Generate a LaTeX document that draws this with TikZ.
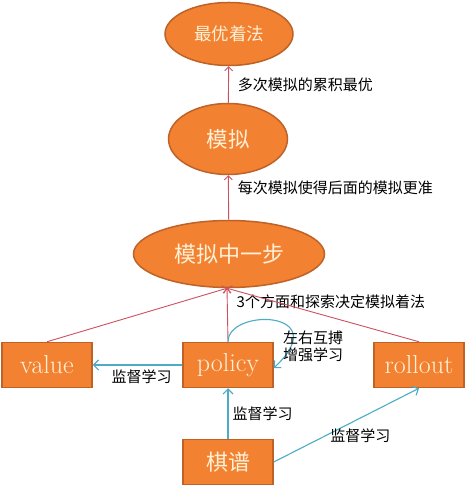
\documentclass[tikz,border=0pt]{standalone}
\usepackage{xcolor}
\usepackage{fontspec}
\usepackage{tikz}
\usetikzlibrary{shapes.geometric,positioning,arrows.meta}
\newfontfamily\cjk{Noto Sans CJK SC}
\definecolor{orfill}{RGB}{242,130,50}
\definecolor{ordraw}{RGB}{190,98,40}
\definecolor{ortext}{RGB}{255,240,214}
\definecolor{redline}{RGB}{205,80,95}
\definecolor{blueline}{RGB}{75,172,198}

\begin{document}
\begin{tikzpicture}[x=1pt,y=1pt,
        oval/.style={ellipse, draw=ordraw, fill=orfill, line width=1.5pt, inner sep=0pt,
            text=ortext, font=\cjk\fontsize{20}{24}\selectfont},
        box/.style={rectangle, draw=ordraw, fill=orfill, line width=1.5pt, inner sep=0pt,
            minimum width=90pt, minimum height=45pt, text=ortext, font=\fontsize{26}{30}\selectfont},
        redarrow/.style={-{Straight Barb[length=4pt,width=8pt]}, draw=redline, line width=0.9pt},
        bluearrow/.style={-{Straight Barb[length=5pt,width=10pt]}, draw=blueline, line width=1.1pt},
        lab/.style={font=\cjk\fontsize{15}{17}\selectfont, text=black, inner sep=1pt, align=left}]
        \useasboundingbox (0,0) rectangle (474,503);
        \node [oval, minimum width=128pt, minimum height=63pt, font=\cjk\fontsize{17.5}{20}\selectfont] (best) at (229,469) {最优着法};
        \node [oval, minimum width=119pt, minimum height=71pt, font=\cjk\fontsize{21.5}{24}\selectfont] (sim) at (228,364) {模拟};
        \node [oval, minimum width=191pt, minimum height=67pt, font=\cjk\fontsize{22}{24}\selectfont] (onestep) at (229,249) {模拟中一步};
        \node [box] (value) at (47,138) {value};
        \node [box] (policy) at (228,138) {policy};
        \node [box] (rollout) at (419,138) {rollout};
        \node [box, font=\cjk\fontsize{22}{24}\selectfont] (record) at (228,41) {棋谱};
        % upper chain
        \draw [redarrow] (sim) -- node [lab, right=8pt] {多次模拟的累积最优} (best);
        \draw [redarrow] (onestep) -- node [lab, pos=0.72, right=8pt] {每次模拟使得后面的模拟更准} (sim);
        % three parts into one step
        \draw [redarrow] (value.north) -- ([xshift=-2pt]onestep.south);
        \draw [redarrow] (policy.north) -- node [lab, pos=0.74, right=8pt] {3个方面和探索决定模拟着法} ([xshift=-2pt]onestep.south);
        \draw [redarrow] (rollout.north) -- ([xshift=-2pt]onestep.south);
        % learning
        \draw [bluearrow] (policy) -- node [lab, below=3pt, xshift=4pt] {监督学习} (value);
        \draw [bluearrow] (policy.north) .. controls +(0,34) and +(62,58) .. ([yshift=-3pt]policy.east);
        \node [lab, anchor=west] (selfplay) at (282,156.5) {左右互搏\\增强学习};
        \draw [bluearrow] (record) -- node [lab, right=3pt] {监督学习} (policy);
        \draw [bluearrow] (record.east) -- node [lab, below=2pt, xshift=14pt] {监督学习} (rollout.south);
\end{tikzpicture}
\end{document}
